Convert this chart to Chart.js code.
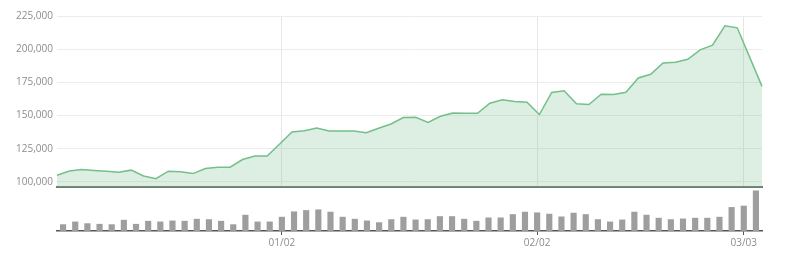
<!DOCTYPE html>
<html>
<head>
<meta charset="utf-8">
<script src="https://cdn.jsdelivr.net/npm/chart.js@4/dist/chart.umd.min.js"></script>
<style>
  html, body { margin: 0; padding: 0; background: #fff; }
  #wrap { position: relative; width: 787px; height: 255px; }
  #priceBox { position: absolute; left: 0; top: 0; width: 787px; height: 188px; }
  #volumeBox { position: absolute; left: 0; top: 188px; width: 787px; height: 67px; }
</style>
</head>
<body>
<div id="wrap">
  <div id="priceBox"><canvas id="priceChart"></canvas></div>
  <div id="volumeBox"><canvas id="volumeChart"></canvas></div>
</div>
<script>
// trading days (mm/dd); only three of them get a visible tick
const dates = [
  "12/06", "12/07", "12/08", "12/09", "12/12", "12/13", "12/14", "12/15", "12/16",
  "12/19", "12/20", "12/21", "12/22", "12/23", "12/26", "12/27", "12/28", "12/29",
  "01/02", "01/03", "01/04", "01/05", "01/06", "01/09", "01/10", "01/11", "01/12",
  "01/13", "01/16", "01/17", "01/18", "01/19", "01/20", "01/23", "01/24", "01/25",
  "01/26", "01/31", "02/01", "02/02", "02/03", "02/06", "02/08", "02/10", "02/13",
  "02/14", "02/15", "02/16", "02/17", "02/20", "02/21", "02/22", "02/23", "02/24",
  "02/28", "03/02", "03/03", "03/06"
];
const shownTicks = ["01/02", "02/02", "03/03"];
const priceTicks = [100000, 125000, 150000, 175000, 200000, 225000];

const prices = [
  105000, 108300, 109300, 108600, 108100, 107300, 108900, 104500, 102500, 108100,
  107600, 106300, 110100, 111100, 111100, 116900, 119500, 119500, 128600, 137700,
  138600, 140700, 138400, 138400, 138400, 137100, 140400, 143700, 148500, 148700,
  144900, 149500, 152000, 151700, 151700, 159300, 161900, 160600, 160100, 150800,
  167400, 168700, 158900, 158300, 166100, 165900, 167600, 178300, 181100, 189600,
  190200, 192400, 199500, 203000, 217600, 216100, 194000, 172000
];

const volumes = [
  6300, 9000, 7300, 6700, 6300, 10700, 6700, 9700, 9000, 10000,
  9700, 11700, 11300, 9700, 6300, 15700, 9000, 9000, 13700, 19000,
  20300, 21000, 18700, 13700, 11700, 10000, 8300, 11300, 13700, 11000,
  11300, 14300, 14300, 11700, 9700, 13000, 13000, 16300, 18700, 18000,
  16700, 14000, 17700, 16300, 11300, 9000, 11000, 18700, 15700, 12700,
  11300, 12000, 12700, 12700, 13700, 23300, 24700, 39700
];

const labelFont = { family: "'Open Sans', 'Noto Sans', sans-serif", size: 10 };
const labelColor = "#8c8c8c";

function isShown(ctx) {
  return shownTicks.includes(dates[ctx.index]);
}

new Chart(document.getElementById("priceChart"), {
  type: "line",
  data: {
    labels: dates,
    datasets: [{
      data: prices,
      borderColor: "#74bf8a",
      backgroundColor: "rgba(116, 191, 138, 0.25)",
      borderWidth: 1.5,
      fill: "start",
      tension: 0,
      pointRadius: 0
    }]
  },
  options: {
    responsive: true,
    maintainAspectRatio: false,
    animation: false,
    layout: { padding: { left: 0, right: 25, top: 16, bottom: 1 } },
    plugins: { legend: { display: false }, tooltip: { enabled: false } },
    scales: {
      x: {
        offset: false,
        grid: { display: false },
        ticks: { display: false },
        border: { display: true, color: "#6f7d73", width: 2 },
        afterFit: s => { s.height = 0; }
      },
      // same categories as the volume chart, only used for the vertical grid lines
      xGrid: {
        type: "category",
        position: "top",
        offset: true,
        grid: {
          color: ctx => isShown(ctx) ? "#e6e6e6" : "transparent",
          drawTicks: false
        },
        ticks: { display: false },
        border: { display: false },
        afterFit: s => { s.height = 0; }
      },
      y: {
        min: 96200,
        max: 225000,
        grid: { color: "#ececec", drawTicks: false },
        border: { display: false },
        afterBuildTicks: s => { s.ticks = priceTicks.map(v => ({ value: v })); },
        ticks: {
          padding: 4,
          color: labelColor,
          font: labelFont,
          callback: v => v.toLocaleString("en-US")
        },
        afterFit: s => {
          s.width = 57;
          s.paddingTop = 0;
          s.paddingBottom = 0;
        }
      }
    }
  }
});

new Chart(document.getElementById("volumeChart"), {
  type: "bar",
  data: {
    labels: dates,
    datasets: [{
      data: volumes,
      backgroundColor: "#9e9e9e",
      barThickness: 5.5
    }]
  },
  options: {
    responsive: true,
    maintainAspectRatio: false,
    animation: false,
    layout: { padding: { left: 57, right: 25, top: 2, bottom: 4 } },
    plugins: { legend: { display: false }, tooltip: { enabled: false } },
    scales: {
      x: {
        grid: {
          offset: false,
          drawOnChartArea: false,
          tickLength: 4,
          color: ctx => isShown(ctx) ? "#555" : "transparent"
        },
        border: { display: true, color: "#555", width: 1.5 },
        ticks: {
          autoSkip: false,
          maxRotation: 0,
          padding: 2,
          color: labelColor,
          font: labelFont,
          callback: (v, i) => shownTicks.includes(dates[i]) ? dates[i] : ""
        }
      },
      y: {
        display: false,
        min: 0,
        max: 40500
      }
    }
  }
});
</script>
</body>
</html>
